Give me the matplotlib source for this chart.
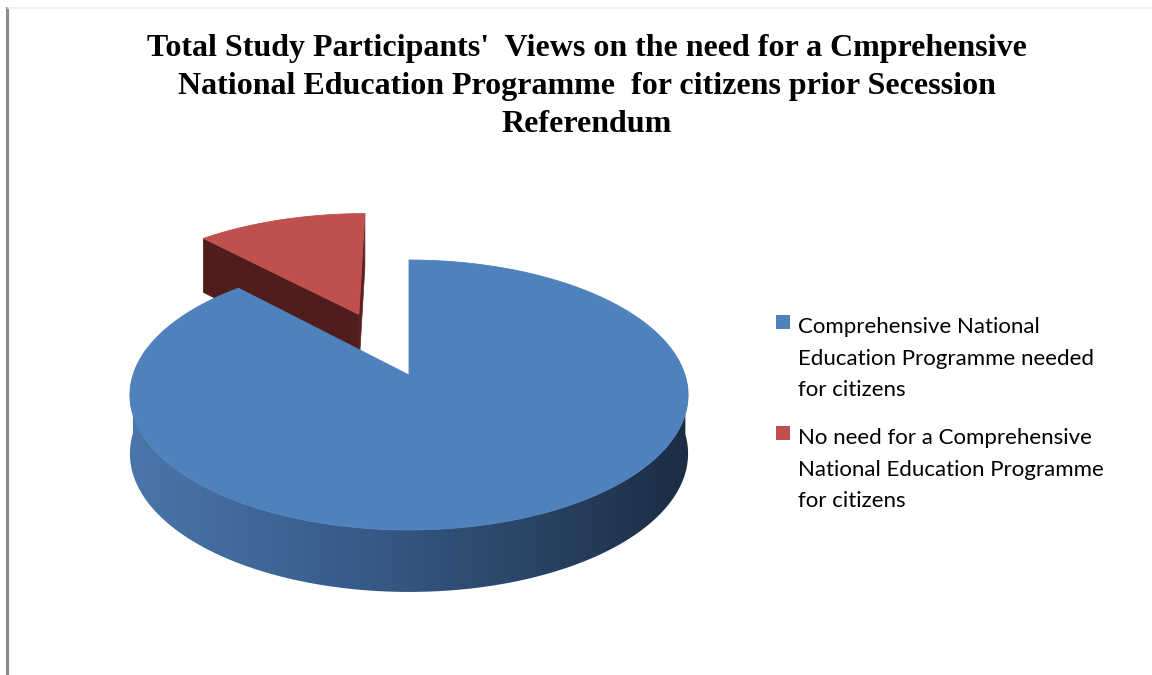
import numpy as np
import matplotlib.pyplot as plt
from matplotlib.patches import Polygon, Rectangle
from matplotlib.colors import LinearSegmentedColormap

# data
labels = [['Comprehensive National', 'Education Programme needed', 'for citizens'],
          ['No need for a Comprehensive', 'National Education Programme', 'for citizens']]
values = [88, 12]
top_colors = ['#4F81BD', '#C0504D']
explode = [0.0, 0.53]

title = ("Total Study Participants'  Views on the need for a Cmprehensive\n"
         "National Education Programme  for citizens prior Secession\n"
         "Referendum")

# projection of a tilted disk (pixel space)
cx, cy = 409, 375       # projected centre
rx, ry = 276, 132       # half axes
persp = 0.148           # perspective on the disk plane
depth = 58.1            # side height
persp_d = 0.063


def proj(u, v, z=0.0):
    s = 1.0 / (1.0 + persp * v)
    sd = 1.0 / (1.0 + persp_d * v)
    return cx + rx * u * s, cy - ry * v * s + depth * z * sd


side_cmap = LinearSegmentedColormap.from_list(
    'side', ['#4b76aa', '#3b6090', '#2c486b', '#1c2c43'])

fig = plt.figure(figsize=(11.52, 6.75), dpi=100)
ax = fig.add_axes([0, 0, 1, 1])
ax.set_xlim(0, 1152)
ax.set_ylim(675, 0)
ax.axis('off')

# frame lines of the original screenshot
ax.plot([7, 7], [8, 675], color='#8a8a8a', lw=2.2)
ax.plot([8, 1152], [8, 8], color='#eeeeee', lw=1.2)

# slice angles: start at 12 o'clock, clockwise
total = float(sum(values))
start = 90.0
slices = []
for val, col, ex in zip(values, top_colors, explode):
    sweep = 360.0 * val / total
    t_end = start - sweep
    slices.append((t_end, start, col, ex))
    start = t_end

# draw the exploded (far) slice first
order = sorted(range(len(slices)), key=lambda i: -slices[i][3])
for i in order:
    a0, a1, col, ex = slices[i]
    mid = np.radians((a0 + a1) / 2)
    ou, ov = ex * np.cos(mid), ex * np.sin(mid)
    th = np.radians(np.linspace(a0, a1, 400))
    ru, rv = ou + np.cos(th), ov + np.sin(th)

    if ex == 0:
        # curved outer side (front part), gradient left to right
        front = (th % (2 * np.pi)) >= np.pi
        fu, fv = ru[front], rv[front]
        idx = np.argsort(np.arctan2(fv, fu) % (2 * np.pi))
        fu, fv = fu[idx], fv[idx]
        upper = [proj(a, b) for a, b in zip(fu, fv)]
        lower = [proj(a, b, 1) for a, b in zip(fu, fv)]
        side = Polygon(upper + lower[::-1], closed=True, fc='none', ec='none')
        ax.add_patch(side)
        grad = np.linspace(0, 1, 256).reshape(1, -1)
        im = ax.imshow(grad, cmap=side_cmap, aspect='auto',
                       extent=[cx - rx - 5, cx + rx + 5, 600, 380], zorder=1)
        im.set_clip_path(side)
    else:
        # radial faces of the exploded slice
        for ang, fcol in ((a0, '#5a2220'), (a1, '#4f1e1c')):
            eu, ev = ou + np.cos(np.radians(ang)), ov + np.sin(np.radians(ang))
            face = [proj(ou, ov), proj(eu, ev), proj(eu, ev, 1), proj(ou, ov, 1)]
            ax.add_patch(Polygon(face, closed=True, fc=fcol, ec=fcol, lw=0.5, zorder=1))

    top = [proj(ou, ov)] + [proj(a, b) for a, b in zip(ru, rv)]
    ax.add_patch(Polygon(top, closed=True, fc=col, ec=col, lw=0.6, zorder=2))

# title
fig.text(587 / 1152, 1 - 34 / 675, title, ha='center', va='top',
         fontsize=23, fontweight='bold', family='Liberation Serif',
         linespacing=1.42, color='#000000')

# legend
base_y = [333, 444]
for lines, col, y0 in zip(labels, top_colors, base_y):
    ax.add_patch(Rectangle((776, y0 - 18), 14, 14, fc=col, ec='none'))
    for k, line in enumerate(lines):
        ax.text(798, y0 + k * 31.7, line, ha='left', va='baseline',
                fontsize=16, family='Lato', color='#000000')

fig.savefig('out.png', dpi=100)
